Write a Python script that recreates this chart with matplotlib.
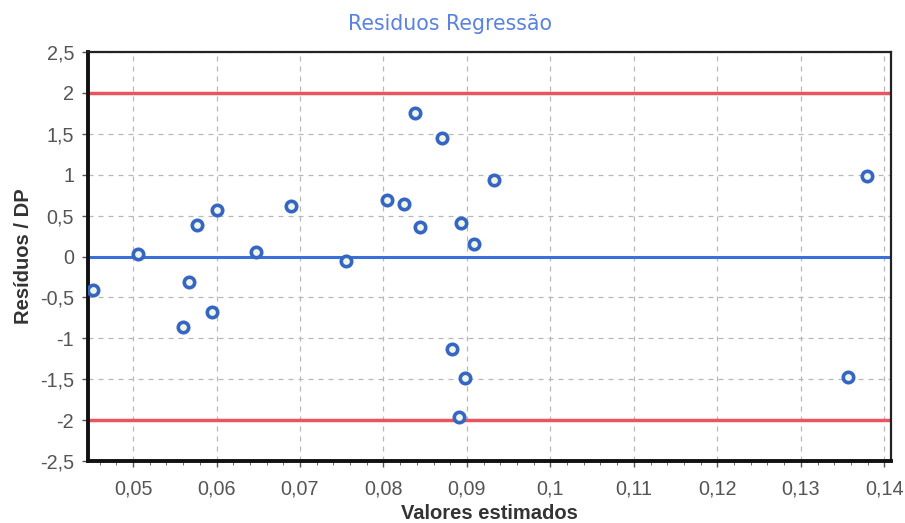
import matplotlib
matplotlib.use("Agg")
import matplotlib.pyplot as plt
from matplotlib.ticker import FuncFormatter, MultipleLocator

plt.rcParams['font.family'] = ['Liberation Sans', 'DejaVu Sans']

x_vals = [0.0452, 0.0506, 0.0560, 0.0567, 0.0577, 0.0595, 0.0601, 0.0647, 0.0689,
          0.0755, 0.0804, 0.0825, 0.0838, 0.0844, 0.0870, 0.0882, 0.0893, 0.0891,
          0.0898, 0.0909, 0.0933, 0.1356, 0.1379]
residuals = [-0.41, 0.03, -0.86, -0.31, 0.385, -0.68, 0.57, 0.055, 0.62,
             -0.055, 0.69, 0.64, 1.75, 0.36, 1.45, -1.13, 0.41, -1.96,
             -1.49, 0.15, 0.935, -1.47, 0.98]
limits = [2, -2]
center = 0

fig = plt.figure(figsize=(9.05, 5.23), dpi=100)
ax = fig.add_axes([0.0972, 0.1185, 0.8873, 0.7821])

ax.set_xlim(0.0446, 0.1408)
ax.set_ylim(-2.5, 2.5)

ax.grid(True, which='major', color='#b8b8b8', linestyle=(0, (4, 4)), linewidth=0.9)
ax.set_axisbelow(True)

for lim in limits:
    ax.axhline(lim, color='#ea5460', linewidth=2.5, zorder=2)
ax.axhline(center, color='#3b6fd9', linewidth=2.2, zorder=2)

ax.plot(x_vals, residuals, linestyle='none', marker='o', markersize=7.5,
        markerfacecolor='#eef6e8', markeredgecolor='#3566c4', markeredgewidth=2.6, zorder=3)

fmt = FuncFormatter(lambda v, p: ('%g' % round(v, 4)).replace('.', ','))
ax.xaxis.set_major_locator(MultipleLocator(0.01))
ax.xaxis.set_minor_locator(MultipleLocator(0.002))
ax.yaxis.set_major_locator(MultipleLocator(0.5))
ax.xaxis.set_major_formatter(fmt)
ax.yaxis.set_major_formatter(fmt)

ax.tick_params(axis='both', which='major', labelsize=14.2, labelcolor='#555555',
               color='#555555', length=4, width=1)
ax.tick_params(axis='x', which='minor', length=3, color='#555555')
ax.tick_params(axis='x', pad=9)
ax.tick_params(axis='y', pad=6)

for s in ['left', 'bottom']:
    ax.spines[s].set_linewidth(2.8)
    ax.spines[s].set_color('#111111')
for s in ['top', 'right']:
    ax.spines[s].set_linewidth(1.6)
    ax.spines[s].set_color('#222222')

fig.text(0.497, 1 - 24 / 523, 'Residuos Regressão', color='#5a82e0', fontsize=14.8,
         family=['DejaVu Sans'], ha='center', va='center')
ax.set_xlabel('Valores estimados', fontsize=14.5, fontweight='bold', color='#333333', labelpad=4)
ax.set_ylabel('Resíduos / DP', fontsize=14.5, fontweight='bold', color='#333333', labelpad=5)

fig.savefig('out.png', dpi=100)
